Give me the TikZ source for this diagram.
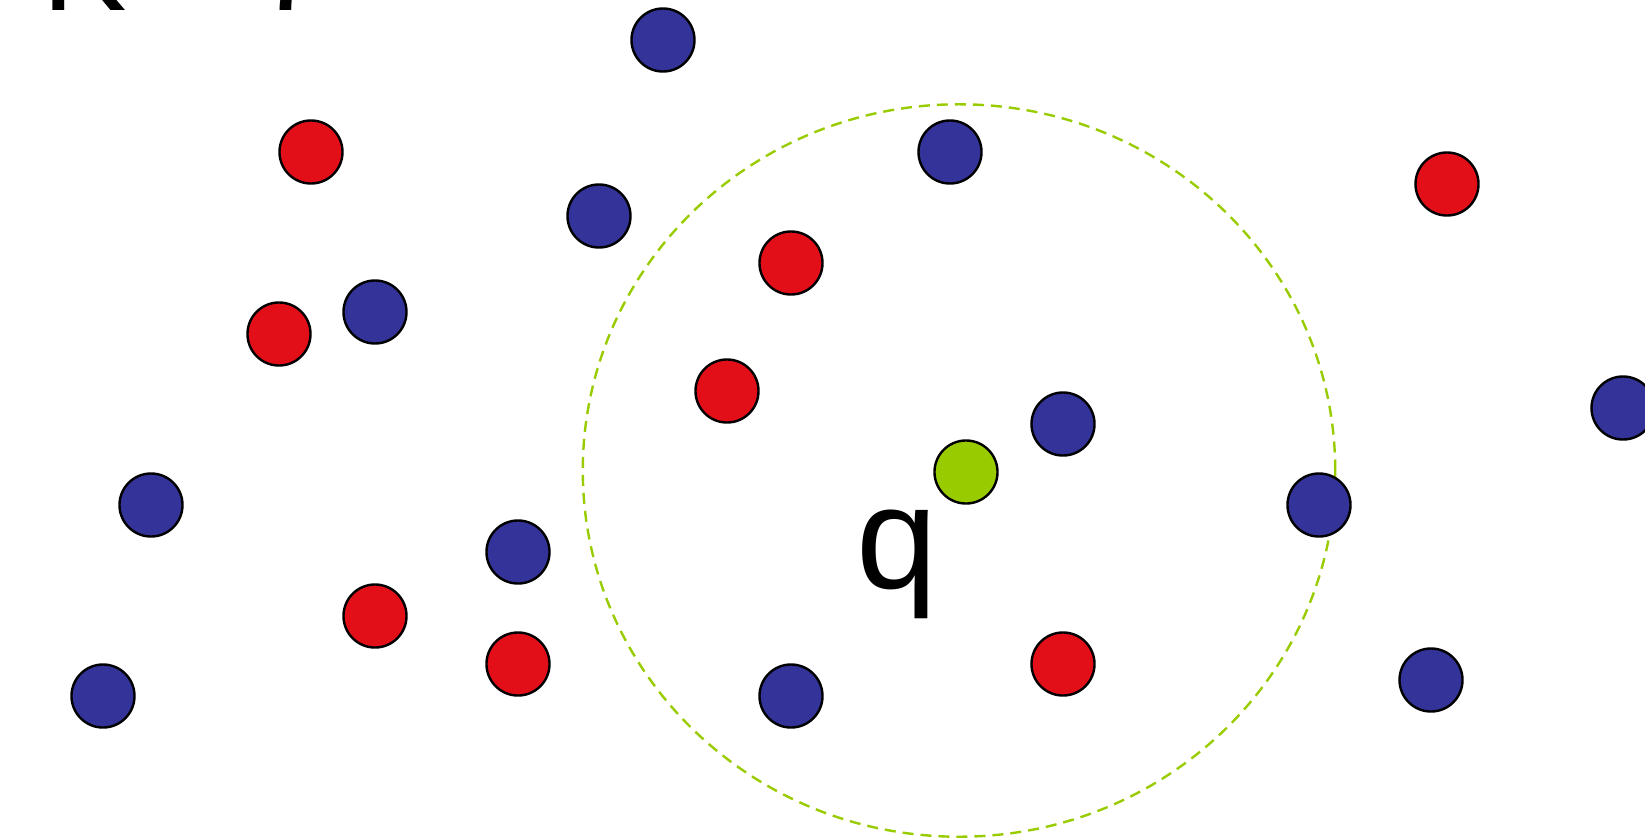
\documentclass[tikz,border=0pt]{standalone}
\usepackage{fontspec}
\setmainfont{Liberation Sans}
\usepackage{tikz}

\definecolor{ptblue}{RGB}{51,51,153}
\definecolor{ptred}{RGB}{227,15,24}
\definecolor{ptgreen}{RGB}{153,204,0}

\begin{document}
\begin{tikzpicture}[
  x=0.01cm, y=-0.01cm,
  sample/.style={circle, draw=black, line width=0.024cm, minimum size=0.63cm, inner sep=0pt},
  blueS/.style={sample, fill=ptblue},
  redS/.style={sample, fill=ptred},
  query/.style={sample, fill=ptgreen},
  radius line/.style={draw=ptgreen, line width=0.024cm, dash pattern=on 0.11cm off 0.07cm}
]
\useasboundingbox (0,0) rectangle (1645,839);
\clip (0,0) rectangle (1645,839);

% neighbourhood of the query point
\draw[radius line] (959,470.5) ellipse [x radius=3.76cm, y radius=3.66cm];

% class A
\node[blueS] (b1) at (663,40) {};
\node[blueS] (b2) at (599,216) {};
\node[blueS] (b3) at (950,152) {};
\node[blueS] (b4) at (375,312) {};
\node[blueS] (b5) at (1063,424) {};
\node[blueS] (b6) at (151,505) {};
\node[blueS] (b7) at (518,552) {};
\node[blueS] (b8) at (1319,505) {};
\node[blueS] (b9) at (1623,408) {};
\node[blueS] (b10) at (103,696) {};
\node[blueS] (b11) at (791,696) {};
\node[blueS] (b12) at (1431,680) {};

% class B
\node[redS] (r1) at (311,152) {};
\node[redS] (r2) at (1447,184) {};
\node[redS] (r3) at (791,263) {};
\node[redS] (r4) at (279,334) {};
\node[redS] (r5) at (727,391) {};
\node[redS] (r6) at (375,616) {};
\node[redS] (r7) at (518,664) {};
\node[redS] (r8) at (1063,664) {};

% query
\node[query] (q) at (966,472) {};
\node[anchor=base, inner sep=0pt, font=\fontsize{41.5}{48}\selectfont] (qlabel) at (897,588) {q};

\node[anchor=base west, inner sep=0pt, font=\fontsize{36}{43}\selectfont] (ktext) at (42,10) {K =\,7};
\end{tikzpicture}
\end{document}
